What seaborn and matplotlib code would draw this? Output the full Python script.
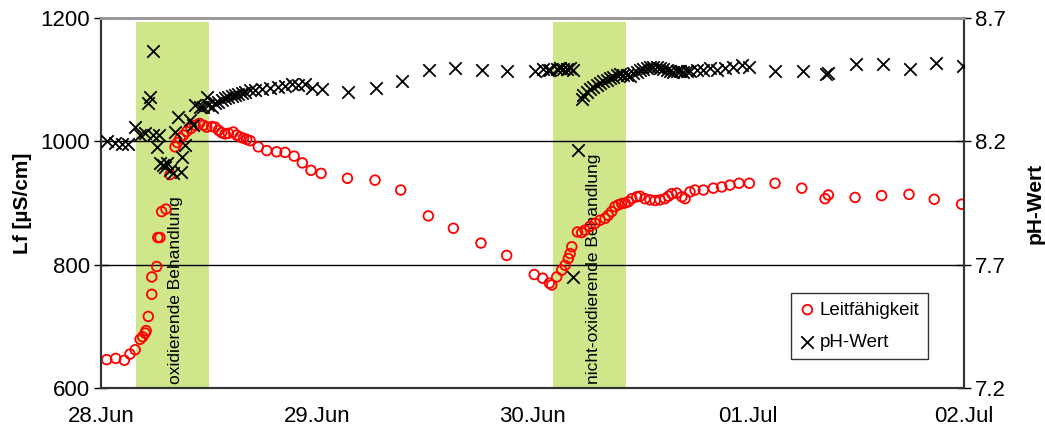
import matplotlib
matplotlib.use('Agg')
import matplotlib.pyplot as plt
import matplotlib.dates as mdates
import numpy as np
import pandas as pd
import seaborn as sns

lf_days = [0.026, 0.068, 0.108, 0.134, 0.158, 0.181, 0.193, 0.204, 0.209, 0.219,
           0.235, 0.235, 0.258, 0.263, 0.273, 0.281, 0.301, 0.320, 0.343, 0.354,
           0.366, 0.382, 0.397, 0.417, 0.436, 0.456, 0.474, 0.490, 0.513, 0.528,
           0.544, 0.559, 0.575, 0.590, 0.613, 0.629, 0.644, 0.660, 0.675, 0.691,
           0.729, 0.768, 0.814, 0.853, 0.895, 0.933, 0.973, 1.020, 1.142, 1.270,
           1.389, 1.517, 1.633, 1.761, 1.880, 2.008, 2.047, 2.078, 2.089, 2.112,
           2.135, 2.151, 2.166, 2.174, 2.182, 2.208, 2.228, 2.243, 2.266, 2.290,
           2.313, 2.336, 2.351, 2.367, 2.382, 2.398, 2.413, 2.429, 2.444, 2.460,
           2.483, 2.498, 2.521, 2.545, 2.568, 2.591, 2.614, 2.630, 2.645, 2.668,
           2.692, 2.707, 2.730, 2.753, 2.792, 2.838, 2.877, 2.915, 2.957, 3.005,
           3.124, 3.248, 3.356, 3.371, 3.495, 3.618, 3.745, 3.862, 3.989]
lf_values = [646, 648, 645, 655, 662, 679, 683, 689, 693, 716,
             752, 780, 797, 844, 844, 886, 890, 946, 991, 998,
             1005, 1010, 1016, 1021, 1026, 1029, 1026, 1023, 1024, 1023,
             1018, 1014, 1012, 1013, 1015, 1010, 1007, 1005, 1003, 1001,
             991, 985, 983, 982, 976, 965, 953, 948, 940, 937,
             921, 879, 859, 835, 815, 784, 778, 770, 767, 780,
             791, 799, 810, 818, 829, 853, 852, 856, 862, 867,
             872, 875, 880, 886, 894, 897, 899, 900, 902, 907,
             910, 911, 907, 905, 904, 905, 907, 911, 915, 916,
             910, 907, 918, 921, 921, 924, 926, 929, 932, 932,
             932, 924, 907, 913, 909, 912, 914, 906, 898]

ph_days = [0.026, 0.065, 0.096, 0.127, 0.158, 0.181, 0.204, 0.219, 0.227, 0.240,
           0.240, 0.258, 0.270, 0.273, 0.289, 0.297, 0.305, 0.320, 0.335, 0.343,
           0.358, 0.369, 0.374, 0.389, 0.413, 0.428, 0.436, 0.459, 0.474, 0.490,
           0.497, 0.513, 0.528, 0.544, 0.559, 0.575, 0.590, 0.606, 0.621, 0.636,
           0.652, 0.667, 0.691, 0.714, 0.745, 0.783, 0.822, 0.853, 0.884, 0.915,
           0.946, 0.977, 1.023, 1.146, 1.275, 1.394, 1.522, 1.641, 1.764, 1.883,
           2.012, 2.050, 2.073, 2.081, 2.112, 2.127, 2.143, 2.158, 2.174, 2.186,
           2.189, 2.212, 2.228, 2.236, 2.251, 2.266, 2.282, 2.297, 2.313, 2.328,
           2.344, 2.359, 2.375, 2.390, 2.406, 2.421, 2.437, 2.452, 2.467, 2.483,
           2.498, 2.514, 2.529, 2.545, 2.560, 2.576, 2.591, 2.606, 2.622, 2.637,
           2.653, 2.668, 2.684, 2.699, 2.715, 2.730, 2.761, 2.792, 2.823, 2.854,
           2.892, 2.931, 2.970, 3.005, 3.124, 3.252, 3.360, 3.371, 3.499, 3.623,
           3.750, 3.870, 3.994]
ph_values = [8.201, 8.194, 8.189, 8.189, 8.259, 8.226, 8.233, 8.357, 8.378, 8.567,
             8.226, 8.178, 8.226, 8.111, 8.104, 8.097, 8.111, 8.084, 8.070, 8.239,
             8.300, 8.077, 8.138, 8.185, 8.286, 8.266, 8.347, 8.340, 8.340, 8.381,
             8.347, 8.340, 8.354, 8.361, 8.368, 8.374, 8.378, 8.384, 8.388, 8.392,
             8.397, 8.401, 8.408, 8.408, 8.411, 8.415, 8.419, 8.424, 8.432, 8.428,
             8.432, 8.415, 8.411, 8.401, 8.415, 8.445, 8.489, 8.499, 8.489, 8.485,
             8.485, 8.492, 8.489, 8.489, 8.492, 8.496, 8.492, 8.492, 8.496, 8.489,
             7.651, 8.165, 8.370, 8.388, 8.401, 8.411, 8.421, 8.428, 8.438, 8.446,
             8.449, 8.456, 8.462, 8.469, 8.473, 8.469, 8.469, 8.465, 8.476, 8.482,
             8.489, 8.492, 8.496, 8.500, 8.503, 8.500, 8.496, 8.492, 8.489, 8.486,
             8.482, 8.485, 8.486, 8.482, 8.485, 8.486, 8.489, 8.489, 8.496, 8.489,
             8.496, 8.503, 8.509, 8.500, 8.485, 8.485, 8.473, 8.478, 8.512, 8.512,
             8.492, 8.519, 8.505]

# treatment periods (days after 28.Jun)
treatments = ['oxidierende Behandlung', 'nicht-oxidierende Behandlung']
treat_start = [0.163, 2.093]
treat_end = [0.500, 2.433]
label_pos = [0.345, 2.283]

start = pd.Timestamp('2008-06-28')
lf = pd.DataFrame({'time': start + pd.to_timedelta(lf_days, unit='D'), 'Lf': lf_values})
ph = pd.DataFrame({'time': start + pd.to_timedelta(ph_days, unit='D'), 'pH': ph_values})

sns.set_style('white')
plt.rcParams['font.family'] = ['Liberation Sans', 'DejaVu Sans']
plt.rcParams['text.color'] = 'black'
plt.rcParams['axes.labelcolor'] = 'black'
plt.rcParams['xtick.color'] = 'black'
plt.rcParams['ytick.color'] = 'black'

fig = plt.figure(figsize=(10.45, 4.3), dpi=100)
ax = fig.add_axes([0.0967, 0.0977, 0.8258, 0.8605])
ax2 = ax.twinx()

# green treatment bands with labels
for name, a, b, p in zip(treatments, treat_start, treat_end, label_pos):
    ax.axvspan(start + pd.Timedelta(days=a), start + pd.Timedelta(days=b),
               ymin=0, ymax=0.989, color='#cfe68a', lw=0, zorder=0)
    ax.text(start + pd.Timedelta(days=p), 606, name, rotation=90, ha='center',
            va='bottom', fontsize=12.5, color='black', zorder=1)

for yv in [800, 1000]:
    ax.axhline(yv, color='black', lw=1, zorder=1)

sns.scatterplot(data=lf, x='time', y='Lf', ax=ax, marker='o', s=48,
                facecolors='none', edgecolors='red', linewidth=1.3,
                label='Leitfähigkeit', legend=False, zorder=3)
sns.scatterplot(data=ph, x='time', y='pH', ax=ax2, marker='x', s=80,
                color='black', linewidth=1.3, label='pH-Wert', legend=False, zorder=3)

ax.set_xlim(start, start + pd.Timedelta(days=4))
ax.set_ylim(600, 1200)
ax.set_yticks([600, 800, 1000, 1200])
ax2.set_ylim(7.2, 8.7)
ax2.set_yticks([7.2, 7.7, 8.2, 8.7])
ax2.set_yticklabels(['7.2', '7.7', '8.2', '8.7'])

ax.xaxis.set_major_locator(mdates.DayLocator())
ax.xaxis.set_major_formatter(mdates.DateFormatter('%d.%b'))

ax.set_xlabel('')
ax.set_ylabel('Lf [µS/cm]', fontsize=15, fontweight='bold', labelpad=6)
ax2.set_ylabel('pH-Wert', fontsize=15, fontweight='bold', labelpad=14)

ax.tick_params(axis='y', direction='inout', length=10, width=1, labelsize=16, pad=3)
ax.tick_params(axis='x', direction='out', length=8, width=1, labelsize=16, pad=5)
ax2.tick_params(axis='y', direction='inout', length=10, width=1, labelsize=16, pad=3)

for a in (ax, ax2):
    a.spines['top'].set_color('#999999')
    a.spines['top'].set_linewidth(2)
    for s in ('left', 'right', 'bottom'):
        a.spines[s].set_color('#333333')
        a.spines[s].set_linewidth(1.5)

h1, l1 = ax.get_legend_handles_labels()
h2, l2 = ax2.get_legend_handles_labels()
leg = ax2.legend(h1 + h2, l1 + l2, loc='lower right', bbox_to_anchor=(0.958, 0.078),
                 borderaxespad=0, fontsize=13.5, frameon=True, fancybox=False,
                 handletextpad=0.2, handlelength=0.9, borderpad=0.45, labelspacing=0.8)
leg.get_frame().set_edgecolor('black')
leg.get_frame().set_linewidth(1)

fig.savefig('out.png', dpi=100)
